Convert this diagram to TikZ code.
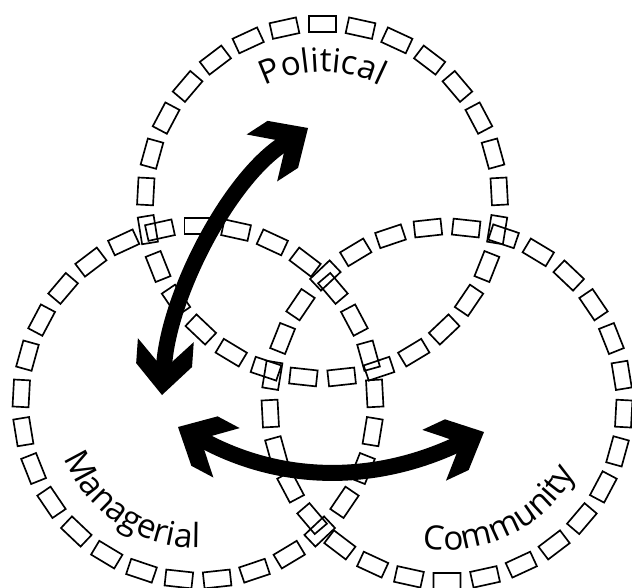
\documentclass[tikz,border=0pt]{standalone}
\usepackage{fontspec}
\setmainfont{Open Sans}
\usetikzlibrary{decorations.text}
\newcommand\lblfont{\fontsize{25pt}{25pt}\selectfont}
\newcommand\myhead[2]{\fill[black, shift={(#1)}, rotate=#2] (0,0) -- (-30,28) -- (-55,28) -- (-34,8) -- (-34,-8) -- (-55,-28) -- (-30,-28) -- cycle;}
\begin{document}
\begin{tikzpicture}[x=0.75pt,y=0.75pt,
  dashbox/.style={draw=black, line width=1.25pt, line join=miter},
  shaft/.style={draw=black, line width=12pt, shorten <=22pt, shorten >=22pt},
  lbl/.style={decorate, decoration={text along path, text align=center}}]
\useasboundingbox (0,0) rectangle (632,587);
\coordinate (P) at (322.5,386);
\coordinate (M) at (198,184);
\coordinate (C) at (447,183);
\foreach \c/\ph in {P/90, M/90, C/96.2}{
  \foreach \k in {0,...,28}{
    \pgfmathsetmacro\ang{\ph+\k*360/29}
    \draw[dashbox, shift={(\c)}, rotate=\ang] (169,-13.5) rectangle (185,13.5);
  }
}
\path[lbl, shift={(P)}, decoration={text={|\lblfont|Political}}] (150:129) arc[start angle=150, end angle=30, radius=129];
\path[lbl, shift={(M)}, decoration={text={|\lblfont|Managerial}}] (186.5:145) arc[start angle=186.5, end angle=286.5, radius=145];
\path[lbl, shift={(C)}, decoration={text={|\lblfont|Community}}] (246:146) arc[start angle=246, end angle=346, radius=146];
\coordinate (A1) at (162,192);
\coordinate (A2) at (308,459);
\coordinate (B1) at (178,160);
\coordinate (B2) at (484,155);
\draw[shaft] (A1) .. controls +(86:100) and +(213:95) .. (A2);
\myhead{A1}{266}
\myhead{A2}{33}
\draw[shaft] (B1) .. controls +(-28:120) and +(205:120) .. (B2);
\myhead{B1}{152}
\myhead{B2}{25}
\end{tikzpicture}
\end{document}
